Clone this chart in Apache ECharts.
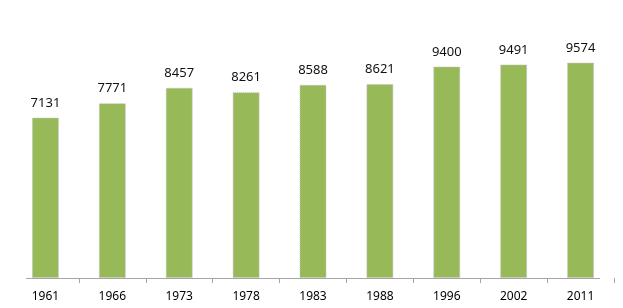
<!DOCTYPE html>
<html>
<head>
<meta charset="utf-8">
<script src="https://cdn.jsdelivr.net/npm/echarts@6/dist/echarts.min.js"></script>
<style>
html,body{margin:0;padding:0;background:#fff;}
#c{width:623px;height:308px;}
</style>
</head>
<body>
<div id="c"></div>
<script>
const categories = ['1961','1966','1973','1978','1983','1988','1996','2002','2011'];
const values = [7131, 7771, 8457, 8261, 8588, 8621, 9400, 9491, 9574];

const chart = echarts.init(document.getElementById('c'), null, {renderer:'canvas'});
chart.setOption({
  animation: false,
  backgroundColor: '#ffffff',
  grid: {left: 12, right: 9, top: 53, bottom: 30},
  xAxis: {
    type: 'category',
    data: categories,
    axisLine: {show: false},
    axisTick: {show: true, length: 5, lineStyle: {color: '#a6a6a6'},
      interval: function (i) { return i > 0 && i < categories.length; }},
    axisLabel: {color: '#000', fontFamily: 'Noto Sans', fontSize: 12, margin: 13}
  },
  yAxis: {
    type: 'value', min: 0, max: 10000,
    show: false,
    splitLine: {show: false}
  },
  graphic: [{
    type: 'line',
    shape: {x1: 26, y1: 278.5, x2: 600, y2: 278.5},
    style: {stroke: '#a6a6a6', lineWidth: 1},
    z: 10
  }],
  series: [{
    type: 'bar',
    data: values,
    barWidth: 27,
    itemStyle: {color: '#98b957', borderColor: '#c4c4c4', borderWidth: 1, borderType: 'dotted'},
    label: {show: true, position: 'top', distance: 8, color: '#111',
      fontFamily: 'Noto Sans', fontSize: 13}
  }]
});
</script>
</body>
</html>
